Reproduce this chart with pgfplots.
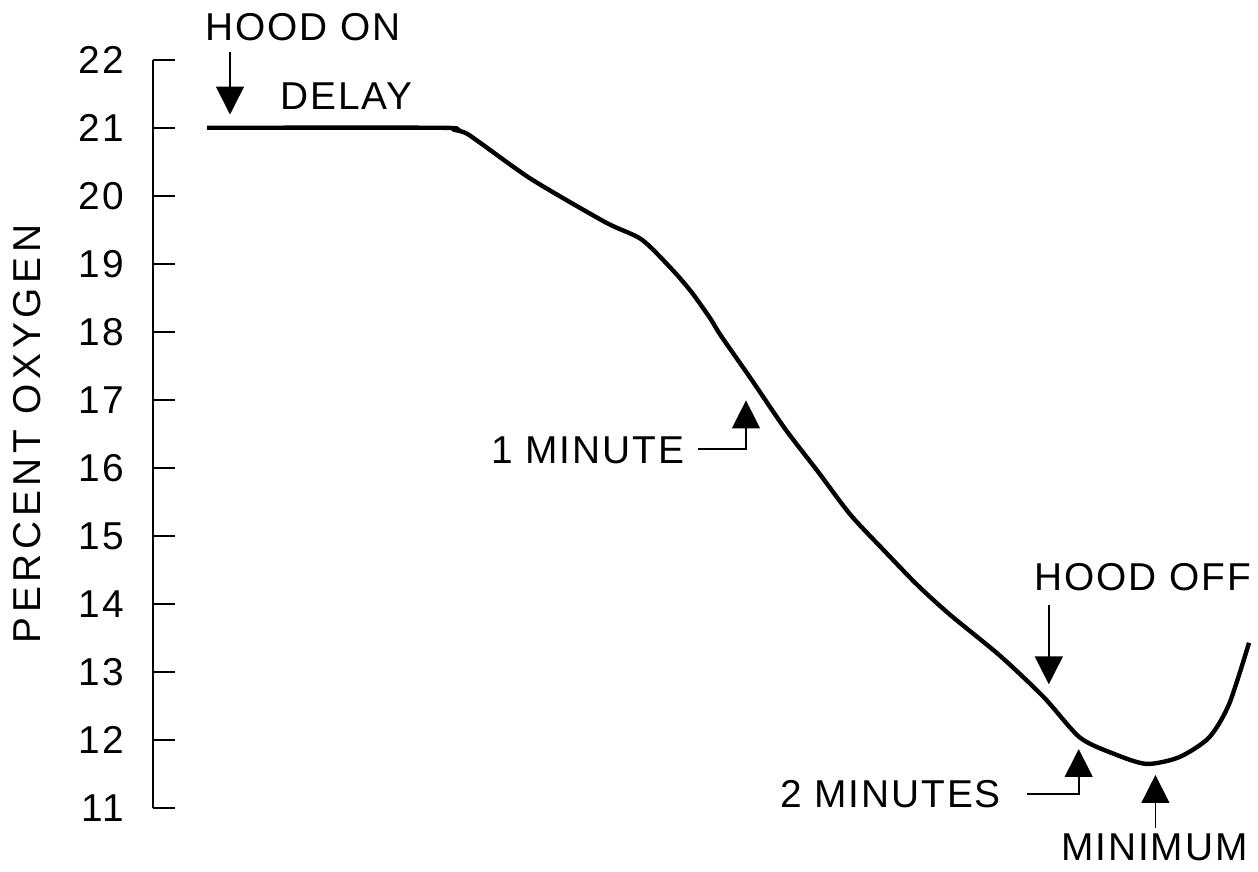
\documentclass[border=0pt]{standalone}
\usepackage{fontspec}
\setmainfont{Liberation Sans}[LetterSpace=5]
\usepackage{pgfplots}
\pgfplotsset{compat=1.18}
\usetikzlibrary{arrows.meta}

\begin{document}
\fontsize{19.5}{22}\selectfont
\begin{tikzpicture}
\begin{axis}[
    x=0.5pt, y=34.15pt,
    xmin=153, xmax=1258,
    ymin=11, ymax=22,
    enlargelimits=false,
    axis y line=left,
    axis x line=none,
    axis line style={-, line width=1pt},
    ytick={11,12,...,22},
    ytick align=inside,
    major tick length=11pt,
    every tick/.style={black, line width=0.8pt},
    yticklabel style={xshift=-8pt, /pgf/number format/assume math mode=true},
    ylabel={\addfontfeature{LetterSpace=12}PERCENT OXYGEN},
    ylabel style={at={(axis description cs:-0.115,0.5)}, rotate=0, anchor=center},
    clip=false,
]
% overall page extent
\path (axis cs:0,22.878) rectangle (axis cs:1262,10.07);

\addplot[black, line width=2.2pt, smooth, tension=0.45] coordinates {
    (207,21.00) (440,21.00) (455,20.97) (467,20.92) (483,20.76)
    (533,20.24) (607,19.61) (643,19.36) (673,18.93) (693,18.59)
    (712,18.20) (723,17.94) (753,17.31) (787,16.58) (820,15.95)
    (853,15.31) (887,14.78) (920,14.28) (953,13.84) (1003,13.24)
    (1047,12.63) (1083,12.04) (1117,11.80) (1150,11.65) (1183,11.75)
    (1213,12.04) (1233,12.53) (1253,13.43)
};

% annotations
\tikzset{tip/.style={line width=0.8pt, -{Triangle[length=14pt,width=14pt]}}}
\node[inner sep=0] at (axis cs:303,22.483) {HOOD ON};
\draw[tip] (axis cs:230,22.117) -- (axis cs:230,21.195);
\node[inner sep=0] at (axis cs:347,21.458) {DELAY};

\node[inner sep=0] at (axis cs:589,16.26) {1 MINUTE};
\draw[tip] (axis cs:700,16.275) -- (axis cs:748,16.275) -- (axis cs:748,16.993);

\node[inner sep=0] at (axis cs:1146,14.40) {HOOD OFF};
\draw[tip] (axis cs:1052,13.99) -- (axis cs:1052,12.82);

\node[inner sep=0] at (axis cs:893,11.21) {2 MINUTES};
\draw[tip] (axis cs:1030,11.21) -- (axis cs:1082,11.21) -- (axis cs:1082,11.868);

\node[inner sep=0] at (axis cs:1158,10.43) {MINIMUM};
\draw[tip] (axis cs:1159,10.71) -- (axis cs:1159,11.487);
\end{axis}
\end{tikzpicture}
\end{document}
